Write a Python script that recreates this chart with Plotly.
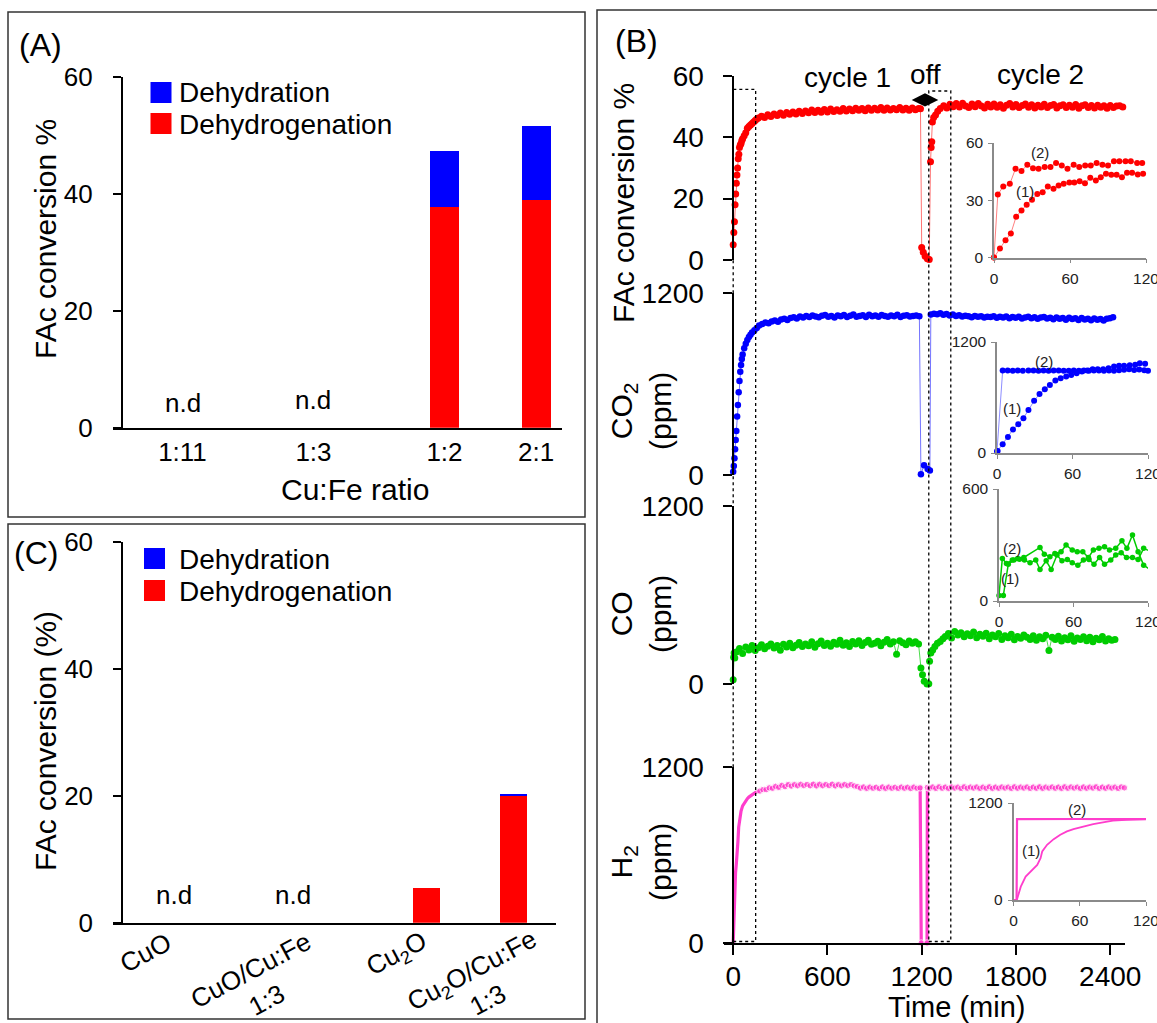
import plotly.graph_objects as go

W, H = 1157, 1023
FONT = "Arial, Liberation Sans, sans-serif"
RED, BLUE, GREEN, PINK = "#FF0000", "#0000FF", "#00CC00", "#FF3DCC"

# ---------------- Panel A data ----------------
ratio_labels = ["1:11", "1:3", "1:2", "2:1"]
ratio_dehydrogenation = [None, None, 37.7, 39.0]
ratio_dehydration = [None, None, 9.6, 12.5]

# ---------------- Panel C data ----------------
cat_labels = ["CuO", "CuO/Cu:Fe<br>1:3", "Cu<sub>2</sub>O", "Cu<sub>2</sub>O/Cu:Fe<br>1:3"]
cat_dehydrogenation = [None, None, 5.4, 20.0]
cat_dehydration = [None, None, None, 0.25]

# ---------------- Panel B main data (time in min) ----------------
FAC_RISE_T = [0, 4, 8, 12, 16, 20, 24, 28, 32, 36, 40, 45, 50, 55, 60, 70, 80, 90, 100, 110, 120, 130, 140, 150]
FAC_RISE = [5, 9, 12.5, 18, 21.5, 25, 27.7, 30, 33, 34.5, 36.7, 37.5, 38, 39, 39.5, 40.5, 41.5, 43, 43.5, 44, 44.5, 45, 45.5, 46]
FAC_C1_START, FAC_C1_STEP = 160, 20
FAC_C1 = [46.3, 46.9, 46.5, 47.4, 46.8, 47.6, 47.1, 47.9, 47.2, 48.1,
          47.5, 48.3, 47.6, 48.5, 47.8, 48.6, 48.0, 48.9, 48.1, 48.8,
          48.2, 49.1, 48.3, 49.2, 48.4, 49.0, 48.5, 49.4, 48.6, 49.2,
          48.7, 49.5, 48.8, 49.4, 48.7, 49.6, 48.8, 49.5, 48.9, 49.7,
          48.8, 49.6, 48.9, 49.4, 49.0, 49.7, 48.9, 49.5, 48.8, 49.6,
          49.0, 49.4]
FAC_OFF_T = [1192, 1200, 1210, 1222, 1236, 1248, 1256, 1260, 1264, 1268, 1276, 1288, 1302, 1318]
FAC_OFF = [49.3, 4.1, 2.5, 1.2, 0.4, 0.2, 32, 36.7, 38.6, 45, 46.5, 47.3, 48.5, 49.4]
FAC_C2_START, FAC_C2_STEP = 1340, 20
FAC_C2 = [50.3, 49.6, 50.8, 50.0, 51.0, 49.9, 51.1, 50.2, 49.7, 50.9,
          50.0, 51.0, 50.2, 49.6, 50.8, 49.9, 50.9, 49.8, 50.6, 49.5,
          50.5, 51.0, 49.9, 50.7, 49.7, 50.4, 50.9, 49.8, 50.6, 49.6,
          50.5, 49.9, 50.8, 49.7, 50.4, 50.7, 49.6, 50.3, 50.6, 49.7,
          50.5, 49.8, 50.7, 49.5, 50.3, 50.6, 49.7, 50.4, 49.6, 50.5,
          49.8, 50.3, 49.5, 50.4, 49.7, 50.2, 50.3, 49.9]

CO2_RISE_T = [0, 4, 8, 12, 16, 20, 25, 30, 35, 40, 45, 50, 55, 60, 70, 80, 90, 100, 110, 120, 135, 150]
CO2_RISE = [22, 60, 110, 170, 230, 290, 385, 462, 545, 620, 680, 725, 765, 795, 835, 865, 890, 910, 925, 940, 955, 970]
CO2_C1_START, CO2_C1_STEP = 165, 20
CO2_C1 = [985, 995, 1005, 1000, 1012, 1018, 1010, 1025, 1030, 1022,
          1035, 1040, 1032, 1045, 1038, 1048, 1042, 1052, 1045, 1040,
          1050, 1055, 1043, 1048, 1038, 1052, 1046, 1055, 1042, 1050,
          1058, 1044, 1049, 1053, 1041, 1056, 1047, 1051, 1043, 1055,
          1048, 1044, 1052, 1046, 1057, 1042, 1050, 1054, 1045, 1049,
          1052, 1047]
CO2_OFF_T = [1195, 1215, 1238, 1252]
CO2_OFF = [5, 65, 40, 30]
CO2_C2_START, CO2_C2_STEP = 1258, 20
CO2_C2 = [1058, 1064, 1060, 1066, 1056, 1061, 1052, 1058, 1048, 1054,
          1045, 1050, 1046, 1040, 1049, 1043, 1047, 1038, 1044, 1041,
          1047, 1037, 1043, 1039, 1045, 1034, 1041, 1037, 1043, 1032,
          1039, 1044, 1034, 1040, 1030, 1038, 1041, 1032, 1036, 1027,
          1039, 1030, 1035, 1024, 1037, 1028, 1033, 1022, 1035, 1026,
          1031, 1020, 1032, 1024, 1029, 1018, 1030, 1034, 1040]

CO_RISE_T = [0, 3, 6, 10]
CO_RISE = [29, 180, 209, 175]
CO_C1_START, CO_C1_STEP = 20, 20
CO_C1 = [215, 240, 205, 250, 230, 260, 225, 245, 265, 238,
         255, 270, 242, 260, 228, 268, 250, 275, 245, 262,
         280, 252, 270, 258, 285, 248, 272, 290, 260, 275,
         255, 282, 268, 295, 262, 278, 252, 286, 270, 292,
         260, 280, 295, 268, 275, 288, 258, 282, 300, 270,
         285, 200, 292, 278, 265, 290, 275, 285, 270]
CO_OFF_T = [1195, 1205, 1216, 1234, 1245, 1250, 1258, 1270, 1284, 1300, 1318, 1335]
CO_OFF = [108, 63, 18, 0, 2, 153, 209, 230, 253, 275, 287, 305]
CO_C2_START, CO_C2_STEP = 1350, 20
CO_C2 = [321, 340, 310, 354, 330, 345, 318, 338, 325, 350,
         312, 335, 322, 342, 305, 330, 318, 340, 300, 325,
         312, 335, 298, 320, 308, 330, 315, 300, 325, 295,
         318, 305, 328, 226, 315, 300, 322, 290, 312, 298,
         325, 288, 310, 300, 318, 292, 315, 285, 308, 298,
         320, 290, 305, 295, 300]

H2_RISE_T = [0, 3, 6, 10, 15, 20, 25, 30, 35, 40, 50, 60, 70, 80, 90, 100, 120, 140, 150]
H2_RISE = [0, 130, 260, 390, 480, 540, 600, 690, 790, 840, 900, 935, 955, 970, 984, 995, 1012, 1025, 1030]
H2_C1_START, H2_C1_STEP = 170, 20
H2_C1 = [1036, 1046, 1046, 1058, 1055, 1068, 1061, 1075, 1066, 1080,
         1070, 1080, 1072, 1082, 1073, 1081, 1072, 1083, 1071, 1082,
         1072, 1081, 1073, 1083, 1071, 1080, 1072, 1081, 1073, 1080,
         1071, 1066, 1056, 1064, 1054, 1063, 1055, 1062, 1053, 1064,
         1054, 1063, 1055, 1062, 1054, 1063, 1055, 1062, 1053, 1063,
         1055]
H2_OFF_T = [1190, 1197, 1234, 1236]
H2_OFF = [1058, 0, 0, 1060]
H2_C2_START, H2_C2_STEP = 1250, 20
H2_C2 = [1055, 1064, 1054, 1065, 1055, 1063, 1054, 1064, 1056, 1063,
         1054, 1065, 1055, 1063, 1056, 1064, 1054, 1063, 1055, 1065,
         1054, 1063, 1055, 1064, 1056, 1063, 1054, 1065, 1055, 1063,
         1056, 1064, 1054, 1063, 1055, 1065, 1054, 1063, 1056, 1064,
         1055, 1063, 1054, 1065, 1055, 1064, 1056, 1063, 1054, 1064,
         1055, 1063, 1056, 1065, 1054, 1063, 1055, 1064, 1056, 1063,
         1054, 1064, 1058]

# ---------------- Inset data (first 120 min) ----------------
FAC_IN2_T = [0, 3, 7.3, 12.5, 17, 21.7, 26.3, 30.8, 35.2, 40, 44.6, 49, 53.5, 58, 62.9, 67.3, 72, 76.4, 81, 85.6, 90, 94.7, 99, 103.8, 108, 113, 117]
FAC_IN2 = [0, 33, 37.2, 38.6, 46.5, 45.3, 48.6, 46.8, 46.5, 47.4, 47.4, 49.5, 48.2, 46.5, 48.6, 47.4, 48.2, 48.2, 49.5, 48.6, 48.2, 50.4, 50.4, 50.4, 50.4, 49.5, 49.5]
FAC_IN1_T = [0, 4.7, 9.1, 13.3, 17.5, 21.7, 25.8, 30, 34.2, 38.4, 42.5, 47, 51, 55, 59.5, 63.4, 67.6, 71.8, 76, 80.4, 84.3, 88.4, 92.6, 96.8, 101, 105, 109, 113.5, 117.7]
FAC_IN1 = [0, 4.7, 9.1, 12.6, 21.4, 24.6, 27.7, 30.2, 33.3, 34.2, 37.2, 36, 37.7, 38.6, 39.3, 39.3, 40, 38.9, 41.8, 40.4, 42.1, 43.9, 43.3, 43.3, 42.1, 44.4, 44.4, 43.5, 43.9]

CO2_IN2_T = [0, 4.5, 8.5, 12.5, 16.5, 20.5, 25, 29, 33, 37, 41, 45, 49, 53, 57, 61, 65, 69, 73, 77, 81, 85, 89, 93, 97, 101, 105, 109, 113, 117, 120]
CO2_IN2 = [20, 891, 893, 890, 892, 889, 891, 893, 890, 892, 889, 891, 893, 890, 888, 891, 889, 892, 890, 893, 891, 889, 892, 890, 895, 900, 905, 898, 902, 895, 890]
CO2_IN1_T = [0.5, 4.5, 8.7, 12.7, 16.9, 21, 25, 29.5, 33.8, 38, 42, 46.4, 50.6, 55, 59, 63.3, 67.5, 71.8, 76, 80, 84.4, 88.6, 93, 97, 101, 105.5, 109.8, 113.5, 117.7]
CO2_IN1 = [22, 94, 174, 254, 312, 377, 464, 565, 638, 688, 735, 783, 808, 826, 844, 862, 880, 891, 906, 906, 906, 917, 935, 942, 942, 949, 953, 971, 964]

CO_IN2_T = [0, 2.7, 6, 10.7, 15, 20, 33, 36.5, 41, 45, 50, 54, 59, 63, 67.5, 72, 76, 80.5, 85, 89, 94, 99, 103, 107.5, 112, 116.5, 120.5]
CO_IN2 = [30, 228, 201, 219, 228, 233, 287, 251, 237, 255, 264, 300, 273, 264, 264, 233, 273, 282, 291, 273, 282, 323, 282, 354, 264, 192, 174]
CO_IN1_T = [3.5, 7.5, 12, 16.5, 20.5, 25, 29.6, 33, 38, 42, 46.7, 50.7, 55, 59, 63.5, 68, 72.5, 76.5, 81, 85, 90, 94, 98.4, 102.7, 107.5, 112, 116.5, 121]
CO_IN1 = [30, 197, 219, 224, 219, 205, 219, 169, 215, 169, 246, 215, 222, 205, 192, 219, 222, 197, 233, 197, 219, 246, 259, 233, 233, 222, 282, 269]

H2_IN2_T = [0, 2.8, 3.2, 20, 40, 60, 80, 100, 120]
H2_IN2 = [0, 0, 1001, 1003, 999, 1002, 1000, 1003, 1001]
H2_IN1_T = [3, 6.6, 11, 15.5, 21.5, 24.5, 26, 30.4, 36.4, 42.4, 48.4, 54.3, 63.3, 72.2, 81, 90, 102, 114, 120]
H2_IN1 = [0, 165, 290, 352, 434, 517, 600, 683, 753, 807, 848, 877, 910, 939, 960, 981, 993, 1001, 1001]

# Off-marker (diamond) position in data coords of the FAc panel
OFF_MARK_T, OFF_MARK_V = [1221], [52.2]


def grid(start, step, values):
    return [start + step * i for i in range(len(values))]


def series(rise_t, rise, c1s, c1d, c1, off_t, off, c2s, c2d, c2):
    t = list(rise_t) + grid(c1s, c1d, c1) + list(off_t) + grid(c2s, c2d, c2)
    v = list(rise) + list(c1) + list(off) + list(c2)
    return t, v


fac_t, fac_v = series(FAC_RISE_T, FAC_RISE, FAC_C1_START, FAC_C1_STEP, FAC_C1, FAC_OFF_T, FAC_OFF, FAC_C2_START, FAC_C2_STEP, FAC_C2)
co2_t, co2_v = series(CO2_RISE_T, CO2_RISE, CO2_C1_START, CO2_C1_STEP, CO2_C1, CO2_OFF_T, CO2_OFF, CO2_C2_START, CO2_C2_STEP, CO2_C2)
co_t, co_v = series(CO_RISE_T, CO_RISE, CO_C1_START, CO_C1_STEP, CO_C1, CO_OFF_T, CO_OFF, CO_C2_START, CO_C2_STEP, CO_C2)
h2_t, h2_v = series(H2_RISE_T, H2_RISE, H2_C1_START, H2_C1_STEP, H2_C1, H2_OFF_T, H2_OFF, H2_C2_START, H2_C2_STEP, H2_C2)


def fx(px):
    return px / W


def fy(py):
    return 1 - py / H


# layout constants (category positions on numeric axes)
A_POS = [0, 1, 2, 2.7]
C_POS = [0, 0.944, 2.0, 2.69]

fig = go.Figure()

# Panel A bars
fig.add_bar(x=A_POS, y=ratio_dehydrogenation, width=0.22, marker=dict(color=RED, line_width=0),
            xaxis="x", yaxis="y", showlegend=False)
fig.add_bar(x=A_POS, y=ratio_dehydration, width=0.22, marker=dict(color=BLUE, line_width=0),
            xaxis="x", yaxis="y", showlegend=False)
# Panel C bars
fig.add_bar(x=C_POS, y=cat_dehydrogenation, width=0.214, marker=dict(color=RED, line_width=0),
            xaxis="x2", yaxis="y2", showlegend=False)
fig.add_bar(x=C_POS, y=cat_dehydration, width=0.214, marker=dict(color=BLUE, line_width=0),
            xaxis="x2", yaxis="y2", showlegend=False)

# Panel B main series
fig.add_scatter(x=fac_t, y=fac_v, mode="lines+markers", xaxis="x3", yaxis="y3", cliponaxis=False,
                line=dict(color="rgba(255,0,0,0.55)", width=1), marker=dict(color=RED, size=7), showlegend=False)
fig.add_scatter(x=co2_t, y=co2_v, mode="lines+markers", xaxis="x3", yaxis="y4", cliponaxis=False,
                line=dict(color="rgba(0,0,255,0.55)", width=1), marker=dict(color=BLUE, size=6.5), showlegend=False)
fig.add_scatter(x=co_t, y=co_v, mode="lines+markers", xaxis="x3", yaxis="y5", cliponaxis=False,
                line=dict(color="rgba(0,204,0,0.7)", width=1), marker=dict(color=GREEN, size=7), showlegend=False)
h2_sizes = [0] * len(H2_RISE) + [6.5] * (len(h2_v) - len(H2_RISE))
fig.add_scatter(x=h2_t, y=h2_v, mode="lines+markers", xaxis="x3", yaxis="y6", cliponaxis=False,
                line=dict(color=PINK, width=3.2), marker=dict(color=PINK, size=h2_sizes), showlegend=False)
fig.add_scatter(x=OFF_MARK_T, y=OFF_MARK_V, mode="markers", xaxis="x3", yaxis="y3", cliponaxis=False,
                marker=dict(symbol="diamond-wide", size=19, color="black"), showlegend=False)

# Insets
def inset(tx, vy, color, lcolor, xa, ya, msize=6, lw=1, mode="lines+markers"):
    fig.add_scatter(x=tx, y=vy, mode=mode, xaxis=xa, yaxis=ya, cliponaxis=False,
                    line=dict(color=lcolor, width=lw), marker=dict(color=color, size=msize), showlegend=False)

inset(FAC_IN2_T, FAC_IN2, RED, "rgba(255,0,0,0.5)", "x4", "y7")
inset(FAC_IN1_T, FAC_IN1, RED, "rgba(255,0,0,0.5)", "x4", "y7")
inset(CO2_IN2_T, CO2_IN2, BLUE, "rgba(0,0,255,0.45)", "x5", "y8")
inset(CO2_IN1_T, CO2_IN1, BLUE, "rgba(0,0,255,0.45)", "x5", "y8")
inset(CO_IN2_T, CO_IN2, GREEN, GREEN, "x6", "y9", msize=5.5, lw=1.5)
inset(CO_IN1_T, CO_IN1, GREEN, GREEN, "x6", "y9", msize=5.5, lw=1.5)
inset(H2_IN2_T, H2_IN2, PINK, PINK, "x7", "y10", lw=2.2, mode="lines")
inset(H2_IN1_T, H2_IN1, PINK, PINK, "x7", "y10", lw=1.8, mode="lines")

base_axis = dict(showgrid=False, zeroline=False, showline=True, linecolor="black", linewidth=1.5,
                 automargin=False, tickcolor="black", tickwidth=1.5, ticklabeloverflow="allow",
                 tickfont=dict(family=FONT, size=26, color="black"))
inset_axis = dict(showgrid=False, zeroline=False, showline=True, linecolor="#8a8a8a", linewidth=1.5,
                  automargin=False, ticks="outside", ticklen=4, tickcolor="#8a8a8a", tickwidth=1.2,
                  ticklabeloverflow="allow",
                  tickfont=dict(family=FONT, size=15.5, color="#222"), ticklabelstandoff=2)

layout_axes = dict(
    xaxis=dict(base_axis, domain=[fx(113), fx(562)], range=[-0.5305, 2.897], tickvals=A_POS,
               ticktext=ratio_labels, ticks="", anchor="y", ticklabelstandoff=0),
    yaxis=dict(base_axis, domain=[fy(427.7), fy(76.7)], range=[0, 60], tickvals=[0, 20, 40, 60],
               ticks="outside", ticklen=8, anchor="free", position=fx(121.6), ticklabelstandoff=15),
    xaxis2=dict(base_axis, domain=[fx(113), fx(556)], range=[-0.484, 3.03], tickvals=C_POS,
                showticklabels=False, ticks="", anchor="y2"),
    yaxis2=dict(base_axis, domain=[fy(922.7), fy(541.7)], range=[0, 60], tickvals=[0, 20, 40, 60],
                ticks="outside", ticklen=8, anchor="free", position=fx(122), ticklabelstandoff=15),
    xaxis3=dict(base_axis, domain=[fx(724.3), fx(1125)], range=[-56.6, 2494],
                tickvals=[0, 600, 1200, 1800, 2400], ticks="outside", ticklen=10, anchor="y6",
                tickfont=dict(family=FONT, size=28, color="black"), ticklabelstandoff=-2),
)
b_y = dict(base_axis, ticks="outside", ticklen=9, anchor="free", position=fx(733.2),
           tickfont=dict(family=FONT, size=28, color="black"), ticklabelstandoff=14)
layout_axes["yaxis3"] = dict(b_y, domain=[fy(260), fy(76)], range=[0, 60], tickvals=[0, 20, 40, 60])
layout_axes["yaxis4"] = dict(b_y, domain=[fy(475), fy(293)], range=[0, 1200], tickvals=[0, 1200])
layout_axes["yaxis5"] = dict(b_y, domain=[fy(684), fy(506)], range=[0, 1200], tickvals=[0, 1200])
layout_axes["yaxis6"] = dict(b_y, domain=[fy(943), fy(767)], range=[0, 1200], tickvals=[0, 1200])

insets = [  # (xaxis, yaxis, yref, xref, xdom px, ydom px (bottom, top), ymax, yticks)
    ("xaxis4", "yaxis7", "y7", "x4", (994, 1146), (257.5, 143), 60, [0, 30, 60]),
    ("xaxis5", "yaxis8", "y8", "x5", (997, 1148), (453, 342), 1200, [0, 1200]),
    ("xaxis6", "yaxis9", "y9", "x6", (999, 1148), (601, 489), 600, [0, 600]),
    ("xaxis7", "yaxis10", "y10", "x7", (1013.5, 1146), (900, 803), 1200, [0, 1200]),
]
for xa, ya, yref, xref, xd, yd, ymax, yt in insets:
    layout_axes[xa] = dict(inset_axis, domain=[fx(xd[0]), fx(xd[1])], range=[0, 120],
                           tickvals=[0, 60, 120], anchor=yref)
    layout_axes[ya] = dict(inset_axis, domain=[fy(yd[0]), fy(yd[1])], range=[0, ymax],
                           tickvals=yt, anchor=xref)

ann = []


def A(px, py, text, size, angle=0, xanchor="center", color="black", yanchor="middle"):
    ann.append(dict(x=fx(px), y=fy(py), xref="paper", yref="paper", text=text, showarrow=False,
                    textangle=angle, xanchor=xanchor, yanchor=yanchor,
                    font=dict(family=FONT, size=size, color=color)))


# Panel labels
A(40, 45, "(A)", 32)
A(636, 41, "(B)", 32)
A(36, 553, "(C)", 32)
# Axis titles
A(45, 239, "FAc conversion %", 30, angle=-90)
A(355, 489, "Cu:Fe ratio", 30)
A(45, 741, "FAc conversion (%)", 30, angle=-90)
A(623, 203, "FAc conversion %", 30, angle=-90)
A(641, 411, "CO<sub>2</sub><br>(ppm)", 30, angle=-90)
A(641, 614, "CO<br>(ppm)", 30, angle=-90)
A(641, 862, "H<sub>2</sub><br>(ppm)", 30, angle=-90)
A(956, 1007, "Time (min)", 29)
# Panel C rotated category labels (centres of the label blocks)
for (px, py), lab in zip([(145, 953), (259, 985), (397, 954), (480, 985)], cat_labels):
    A(px, py, lab, 26, angle=-28)
# cycle labels
A(847, 77, "cycle 1", 28)
A(925, 74, "off", 28)
A(1040, 74, "cycle 2", 28)
# Legends
A(177, 92.5, "Dehydration", 28, xanchor="left")
A(177, 124, "Dehydrogenation", 28, xanchor="left")
A(177, 559, "Dehydration", 28, xanchor="left")
A(177, 591, "Dehydrogenation", 28, xanchor="left")
# inset curve labels
for px, py, t in [(1040, 153, "(2)"), (1025, 191, "(1)"), (1044, 361, "(2)"), (1012, 408, "(1)"),
                  (1012, 548, "(2)"), (1010, 578, "(1)"), (1077, 809, "(2)"), (1031, 850, "(1)")]:
    A(px, py, t, 15, color="#222")

# n.d labels in data coordinates
for xa, ya, xv, yv in [("x", "y", A_POS[0], 4.3), ("x", "y", A_POS[1], 4.8),
                       ("x2", "y2", C_POS[0], 4.4), ("x2", "y2", C_POS[1], 4.4)]:
    ann.append(dict(x=xv, y=yv, xref=xa, yref=ya, text="n.d", showarrow=False, yanchor="middle",
                    font=dict(family=FONT, size=26, color="black")))

shapes = []
# panel boxes
for x0, y0, x1, y1 in [(8, 12, 585, 517), (8, 524, 585, 1019), (597, 10, 1165, 1035)]:
    shapes.append(dict(type="rect", xref="paper", yref="paper", x0=fx(x0), x1=fx(x1), y0=fy(y1), y1=fy(y0),
                       line=dict(color="#333", width=1.5)))
# legend swatches
for x0, y0, c in [(150.5, 82, BLUE), (150.5, 113, RED), (144, 548, BLUE), (144, 580, RED)]:
    shapes.append(dict(type="rect", xref="paper", yref="paper", x0=fx(x0), x1=fx(x0 + 21),
                       y0=fy(y0 + 21), y1=fy(y0), line=dict(width=0), fillcolor=c))
# dotted zoom windows
for t0, t1, top in [(0, 143, 89.3), (1245, 1385, 91)]:
    shapes.append(dict(type="rect", xref="x3", yref="paper", x0=t0, x1=t1, y0=fy(941.5), y1=fy(top),
                       line=dict(color="black", width=1.3, dash="dot")))

fig.update_layout(
    width=W, height=H, margin=dict(l=0, r=0, t=0, b=0, pad=0, autoexpand=False),
    paper_bgcolor="white", plot_bgcolor="rgba(0,0,0,0)",
    barmode="stack", showlegend=False, hovermode=False,
    font=dict(family=FONT, color="black"),
    annotations=ann, shapes=shapes,
    **layout_axes,
)

fig.write_html("out.html", config=dict(responsive=False, displayModeBar=False),
               post_script="document.body.style.margin='0px';document.body.style.overflow='hidden';")
